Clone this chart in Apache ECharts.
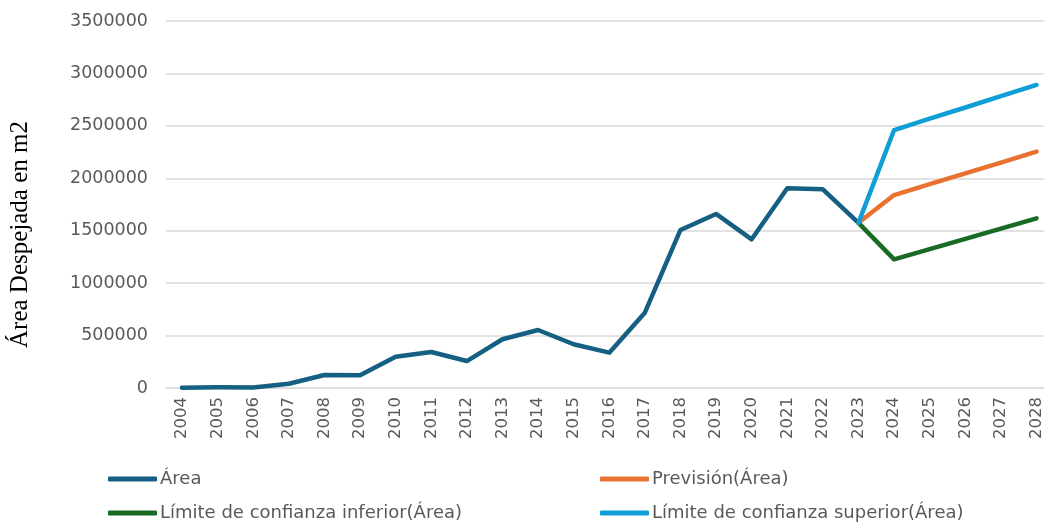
<!DOCTYPE html>
<html>
<head>
<meta charset="utf-8">
<script src="https://cdn.jsdelivr.net/npm/echarts@6/dist/echarts.min.js"></script>
<style>html,body{margin:0;padding:0;background:#fff}#c{width:1045px;height:523px}</style>
</head>
<body>
<div id="c"></div>
<script>
const years = [2004,2005,2006,2007,2008,2009,2010,2011,2012,2013,2014,2015,2016,2017,2018,2019,2020,2021,2022,2023,2024,2025,2026,2027,2028];
const area = [3000,7000,5000,40000,124000,121000,298000,343000,257000,465000,553000,417000,337000,718000,1507000,1660000,1418000,1905000,1895000,1575000,null,null,null,null,null];
const prevision = [null,null,null,null,null,null,null,null,null,null,null,null,null,null,null,null,null,null,null,1575000,1840000,1944000,2047000,2150000,2254000];
const limInf = [null,null,null,null,null,null,null,null,null,null,null,null,null,null,null,null,null,null,null,1575000,1227000,1325000,1422000,1520000,1618000];
const limSup = [null,null,null,null,null,null,null,null,null,null,null,null,null,null,null,null,null,null,null,1575000,2460000,2568000,2675000,2783000,2890000];
const names = ['Área','Previsión(Área)','Límite de confianza inferior(Área)','Límite de confianza superior(Área)'];
const colors = ['#156082','#E97132','#196B24','#0F9ED5'];
const yTicks = [0,500000,1000000,1500000,2000000,2500000,3000000,3500000];

const chart = echarts.init(document.getElementById('c'));
const font = '"DejaVu Sans", sans-serif';
function lg(name, left, top){
  return {data:[name], left:left, top:top, icon:'roundRect', itemWidth:49, itemHeight:5, itemGap:0,
    textStyle:{fontFamily:font, fontSize:18, color:'#595959', padding:[0,0,0,-2]}, padding:0};
}
function ser(i, vals){
  const data = [];
  years.forEach(function(y, k){ if (vals[k] !== null) data.push([y, vals[k]]); });
  return {name:names[i], type:'line', data:data, showSymbol:false, symbol:'none',
    lineStyle:{width:4.5, color:colors[i], cap:'round', join:'round'}, itemStyle:{color:colors[i]},
    animation:false};
}
chart.setOption({
  animation:false,
  color: colors,
  grid:{left:165, right:0, top:21, height:367, containLabel:false},
  legend:[lg(names[0],108,470), lg(names[1],600,470), lg(names[2],108,504), lg(names[3],600,504)],
  xAxis:{type:'value', min:2003.55, max:2028.2,
    axisLine:{show:true, onZero:false, lineStyle:{color:'#d9d9d9', width:1}},
    axisTick:{show:false},
    splitLine:{show:false},
    axisLabel:{rotate:90, fontFamily:font, fontSize:16.5, color:'#595959', margin:9,
      customValues:years, formatter:function(v){return String(Math.round(v));}}},
  yAxis:{type:'value', min:0, max:3500000, interval:500000,
    name:'Área Despejada en m2', nameLocation:'middle', nameGap:133, nameRotate:90,
    nameTextStyle:{fontFamily:'"Liberation Serif", "Times New Roman", serif', fontSize:25, color:'#000', padding:[0,60,0,0]},
    axisLine:{show:false}, axisTick:{show:false},
    axisLabel:{fontFamily:font, fontSize:17.5, color:'#595959', margin:18, customValues:yTicks, formatter:function(v){return String(v);}},
    splitLine:{lineStyle:{color:'#d9d9d9', width:1.5}}},
  series:[ser(0,area), ser(1,prevision), ser(2,limInf), ser(3,limSup)]
});
</script>
</body>
</html>
